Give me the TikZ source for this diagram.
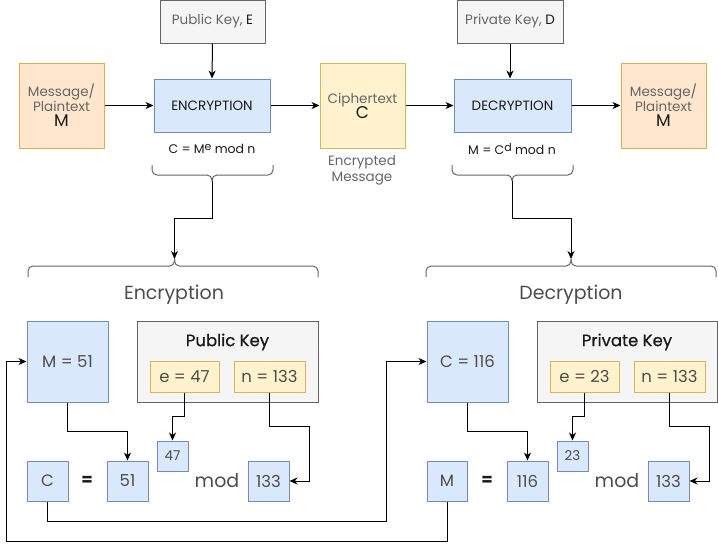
\documentclass[tikz,border=0pt]{standalone}
\usepackage{fontspec}
\setmainfont{Poppins}
\newfontfamily\semib[FakeBold=0.7]{Poppins}
\usetikzlibrary{arrows.meta,calc}
\definecolor{keyfill}{HTML}{F5F5F5}
\definecolor{keydraw}{HTML}{666666}
\definecolor{bluefill}{HTML}{DAE8FC}
\definecolor{bluedraw}{HTML}{6C8EBF}
\definecolor{orfill}{HTML}{FFE6CC}
\definecolor{ordraw}{HTML}{E0AE3E}
\definecolor{yefill}{HTML}{FFF2CC}
\definecolor{yedraw}{HTML}{D6B656}
\definecolor{txtgray}{HTML}{666666}
\definecolor{txtdark}{HTML}{1A1A1A}
\definecolor{txtmid}{HTML}{4D4D4D}
\tikzset{
  base/.style={line width=1pt, inner sep=0pt, align=center},
  keybox/.style={base, fill=keyfill, draw=keydraw},
  bluebox/.style={base, fill=bluefill, draw=bluedraw},
  orbox/.style={base, fill=orfill, draw=ordraw},
  yebox/.style={base, fill=yefill, draw=yedraw},
  wh/.style 2 args={minimum width=#1, minimum height=#2},
  lbl/.style={inner sep=0pt, align=center},
  arr/.style={line width=1pt, draw=black, -{Stealth[length=8pt,width=7pt,inset=2.5pt]}},
  brace/.style={line width=1pt, draw=keydraw, rounded corners=5pt},
  fsA/.style={font=\fontsize{13.5}{16}\selectfont},
  fsB/.style={font=\fontsize{16.5}{19}\selectfont},
  fsC/.style={font=\fontsize{19}{22}\selectfont},
  fsD/.style={font=\fontsize{12.5}{15}\selectfont},
}
\newcommand{\supr}[1]{\raisebox{0.55ex}{\fontsize{11}{11}\selectfont #1}}
\begin{document}
\begin{tikzpicture}[x=1pt,y=-1pt]
\useasboundingbox (0,0) rectangle (718,550);
\fill[white] (0,0) rectangle (718,550);

% ---------- top row ----------
\node[keybox, wh={105}{43}, fsA] (pk) at (212.5,21.5) {\textcolor{txtgray}{Public Key,} \textcolor{txtdark}{E}};
\node[keybox, wh={106}{43}, fsA] (dk) at (510,21.5) {\textcolor{txtgray}{Private Key,} \textcolor{txtdark}{D}};
\node[orbox, wh={85}{85}, fsA] (m1) at (61.5,105.5) {\textcolor{txtgray}{Message/}\\[-1pt]\textcolor{txtgray}{Plaintext}\\[-1pt]{\fontsize{17}{19}\selectfont\textcolor{txtdark}{M}}};
\node[bluebox, wh={116}{53}, fsA, text=txtdark] (enc) at (212,105.5) {ENCRYPTION};
\node[yebox, wh={85}{85}, fsA] (ct) at (362.5,105.5) {\textcolor{txtgray}{Ciphertext}\\[-1pt]{\fontsize{17}{19}\selectfont\textcolor{txtdark}{C}}};
\node[bluebox, wh={117}{53}, fsA, text=txtdark] (dec) at (512.5,105.5) {DECRYPTION};
\node[orbox, wh={85}{85}, fsA] (m2) at (663.5,105.5) {\textcolor{txtgray}{Message/}\\[-1pt]\textcolor{txtgray}{Plaintext}\\[-1pt]{\fontsize{17}{19}\selectfont\textcolor{txtdark}{M}}};

\node[lbl, fsD, text=txtdark] (f1) at (212,149) {C = M\supr{e} mod n};
\node[lbl, fsD, text=txtdark] (f2) at (512,149) {M = C\supr{d} mod n};
\node[lbl, fsA, text=txtgray] (em) at (362,170) {Encrypted\\[0pt]Message};

\draw[arr] (pk.south) -- (enc.north);
\draw[arr] (dk.south) -- (dk.south |- dec.north);
\draw[arr] (m1.east) -- (enc.west);
\draw[arr] (enc.east) -- (ct.west);
\draw[arr] (ct.east) -- (dec.west);
\draw[arr] (dec.east) -- (m2.west);

% ---------- braces ----------
\coordinate (b1tip) at (212,181);
\coordinate (b2tip) at (512,181);
\coordinate (b3tip) at (174.5,259);
\coordinate (b4tip) at (571,259);
\draw[brace] (152,165) -- (152,175) -- (212,175) -- (b1tip);
\draw[brace] (b1tip) -- (212,175) -- (273,175) -- (273,165);
\draw[brace] (452,165) -- (452,175) -- (512,175) -- (b2tip);
\draw[brace] (b2tip) -- (512,175) -- (573,175) -- (573,165);
\draw[brace] (28,277) -- (28,266) -- (174.5,266) -- (b3tip);
\draw[brace] (b3tip) -- (174.5,266) -- (318,266) -- (318,277);
\draw[brace] (426,277) -- (426,266) -- (571,266) -- (b4tip);
\draw[brace] (b4tip) -- (571,266) -- (716,266) -- (716,277);

\draw[arr] (b1tip) -- ++(0,37) -| (b3tip);
\draw[arr] (b2tip) -- ++(0,37) -| (b4tip);

\node[lbl, fsC, text=txtmid] (enclbl) at (174,295) {Encryption};
\node[lbl, fsC, text=txtmid] (declbl) at (571,295) {Decryption};

% ---------- encryption example ----------
\node[bluebox, wh={81}{81}, fsB, text=txtmid] (m51) at (67.5,361.5) {M = 51};
\node[keybox, wh={181}{81}] (pubg) at (227.5,361.5) {};
\node[lbl, fsB, text=txtdark] (pubt) at (227.5,342) {\semib Public Key};
\node[yebox, wh={69}{31}, fsB, text=txtmid] (e47) at (184.5,376.5) {e = 47};
\node[yebox, wh={71}{31}, fsB, text=txtmid] (n133) at (269.5,376.5) {n = 133};
\node[bluebox, wh={31}{30}, fsA, text=txtmid] (s47) at (172.5,456) {47};
\node[bluebox, wh={41}{40}, fsB, text=txtmid] (cb) at (47.5,481) {C};
\node[lbl, fsB, text=txtdark] (eq1) at (87,481) {\bfseries =};
\node[bluebox, wh={41}{40}, fsB, text=txtmid] (b51) at (127.5,481) {51};
\node[lbl, fsC, text=txtmid] (mod1) at (217,481) {mod};
\node[bluebox, wh={41}{40}, fsB, text=txtmid] (b133) at (268.5,481) {133};

\draw[arr] (m51.south) -- ++(0,29) -| (b51.north);
\draw[arr] (e47.south) -- ++(0,24) -| (s47.north);
\draw[arr] (n133.south) -- ++(0,34) -| ($(b133.east)+(19.5,0)$) -- (b133.east);

% ---------- decryption example ----------
\node[bluebox, wh={81}{81}, fsB, text=txtmid] (c116) at (467.5,361.5) {C = 116};
\node[keybox, wh={180}{81}] (privg) at (627,361.5) {};
\node[lbl, fsB, text=txtdark] (privt) at (627,342) {\semib Private Key};
\node[yebox, wh={69}{31}, fsB, text=txtmid] (e23) at (584.5,376.5) {e = 23};
\node[yebox, wh={71}{31}, fsB, text=txtmid] (n133b) at (669.5,376.5) {n = 133};
\node[bluebox, wh={31}{30}, fsA, text=txtmid] (s23) at (572.5,456) {23};
\node[bluebox, wh={40}{40}, fsB, text=txtmid] (mb) at (447,481) {M};
\node[lbl, fsB, text=txtdark] (eq2) at (487,481) {\bfseries =};
\node[bluebox, wh={41}{40}, fsB, text=txtmid] (b116) at (527.5,481) {116};
\node[lbl, fsC, text=txtmid] (mod2) at (617,481) {mod};
\node[bluebox, wh={41}{40}, fsB, text=txtmid] (b133b) at (668.5,481) {133};

\draw[arr] (c116.south) -- ++(0,29) -| (b116.north);
\draw[arr] (e23.south) -- ++(0,24) -| (s23.north);
\draw[arr] (n133b.south) -- ++(0,34) -| ($(b133b.east)+(19.5,0)$) -- (b133b.east);

% ---------- loop connectors ----------
\draw[arr] (cb.south) -- ++(0,20) -| ($(c116.west)+(-40,0)$) -- (c116.west);
\draw[arr] (mb.south) -- ++(0,40) -| ($(m51.west)+(-20,0)$) -- (m51.west);
\end{tikzpicture}
\end{document}
